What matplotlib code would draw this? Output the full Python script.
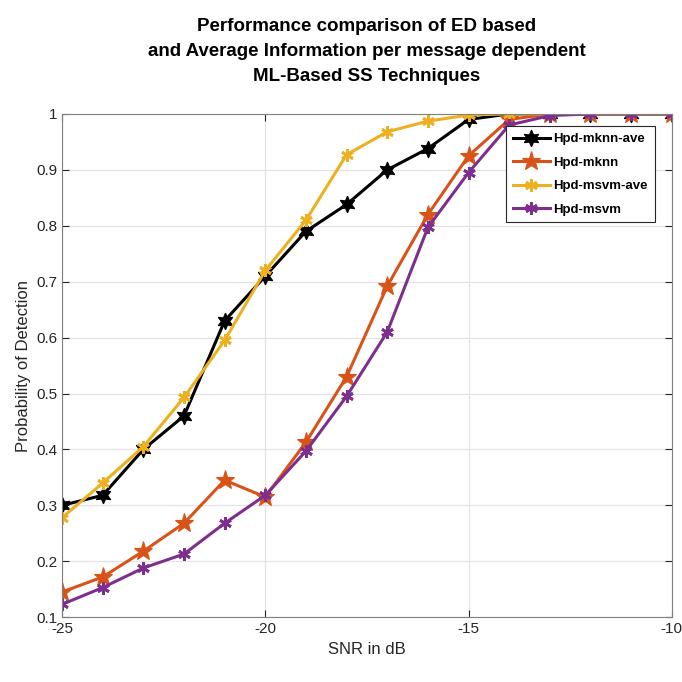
import matplotlib.pyplot as plt
import numpy as np

plt.rcParams['font.family'] = ['Liberation Sans', 'DejaVu Sans']
plt.rcParams['axes.unicode_minus'] = False

snr = np.arange(-25, -9, 1)
mknn_ave = [0.30, 0.318, 0.40, 0.46, 0.63, 0.71, 0.79, 0.838, 0.90, 0.938, 0.99, 1.0, 1.0, 1.0, 1.0, 1.0]
mknn = [0.145, 0.172, 0.218, 0.268, 0.345, 0.315, 0.413, 0.53, 0.692, 0.82, 0.925, 0.99, 1.0, 1.0, 1.0, 1.0]
msvm_ave = [0.278, 0.34, 0.405, 0.493, 0.595, 0.72, 0.81, 0.927, 0.968, 0.987, 0.998, 1.0, 1.0, 1.0, 1.0, 1.0]
msvm = [0.123, 0.153, 0.188, 0.213, 0.268, 0.318, 0.397, 0.495, 0.61, 0.797, 0.895, 0.98, 0.997, 1.0, 1.0, 1.0]

labels = ['Hpd-mknn-ave', 'Hpd-mknn', 'Hpd-msvm-ave', 'Hpd-msvm']
colors = ['#000000', '#d95319', '#edb120', '#7e2f8e']
markers = [(6, 1, 0), '*', (6, 2, 0), (6, 2, 0)]
sizes = [12, 14, 9, 9]
mews = [0.8, 0.8, 2.0, 2.0]

fig = plt.figure(figsize=(6.82, 6.82), dpi=100)
ax = fig.add_axes([0.091, 0.095, 0.894, 0.738])

for y, lab, c, m, s, w in zip([mknn_ave, mknn, msvm_ave, msvm], labels, colors, markers, sizes, mews):
    ax.plot(snr, y, color=c, lw=2.2, marker=m, ms=s, mec=c, mfc=c, mew=w, label=lab)

ax.set_xlim(-25, -10)
ax.set_ylim(0.1, 1.0)
ax.set_xticks([-25, -20, -15, -10])
ax.set_yticks(np.arange(0.1, 1.01, 0.1))
ax.set_yticklabels(['0.1', '0.2', '0.3', '0.4', '0.5', '0.6', '0.7', '0.8', '0.9', '1'])
ax.grid(True, color='#e3e3e3', lw=0.9)
ax.tick_params(direction='in', labelsize=11, length=5, colors='#262626', top=True, right=True)
for sp in ax.spines.values():
    sp.set_color('#7f7f7f')

ax.set_xlabel('SNR in dB', fontsize=12, color='#262626')
ax.set_ylabel('Probability of Detection', fontsize=12, color='#262626')
ax.set_title('Performance comparison of ED based\nand Average Information per message dependent\nML-Based SS Techniques',
             fontsize=13.5, fontweight='bold', pad=24, linespacing=1.6)

leg = ax.legend(loc='upper right', bbox_to_anchor=(0.972, 0.975), borderaxespad=0,
                prop={'size': 9.5, 'weight': 'bold'},
                fancybox=False, edgecolor='#262626', framealpha=1, handlelength=2.8, borderpad=0.5,
                labelspacing=0.85, handletextpad=0.3)
leg.get_frame().set_linewidth(0.8)

fig.savefig('out.png', dpi=100)
